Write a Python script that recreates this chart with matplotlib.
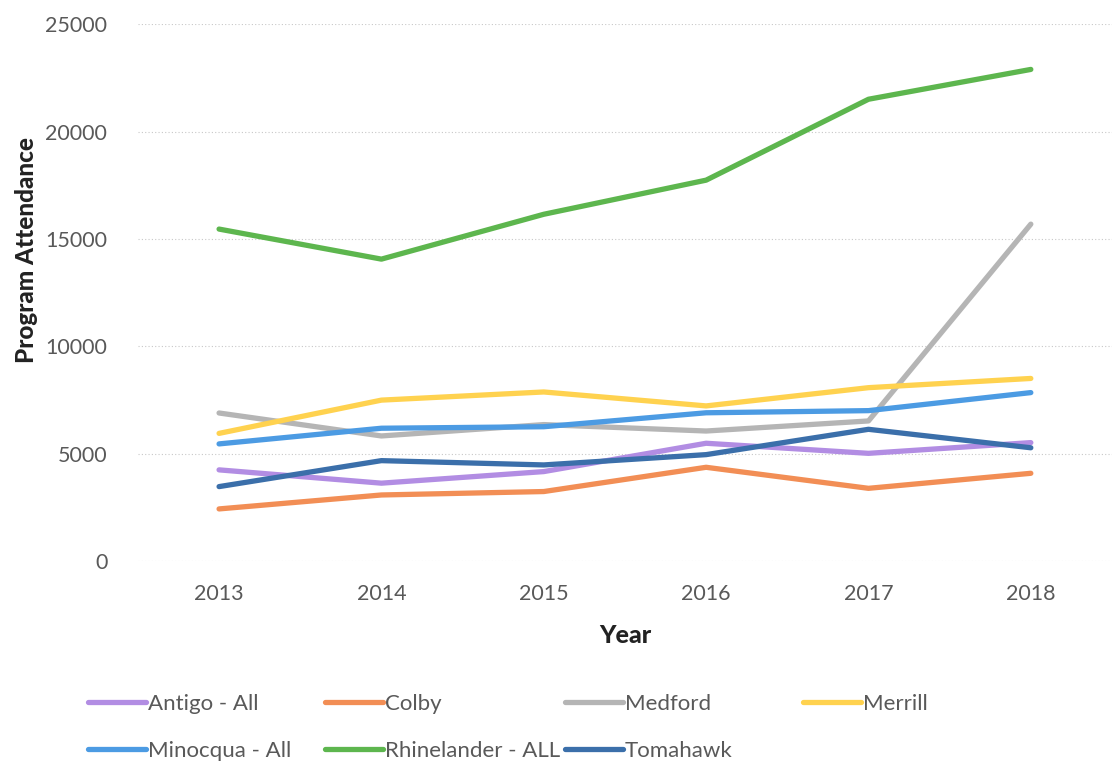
import matplotlib.pyplot as plt
from matplotlib.lines import Line2D

plt.rcParams['font.family'] = ['Lato', 'DejaVu Sans']

years = [2013, 2014, 2015, 2016, 2017, 2018]

antigo = [4240, 3620, 4160, 5480, 5010, 5510]
colby = [2420, 3070, 3230, 4360, 3380, 4080]
medford = [6890, 5820, 6350, 6050, 6520, 15690]
merrill = [5940, 7490, 7870, 7220, 8070, 8500]
minocqua = [5450, 6180, 6250, 6900, 7000, 7840]
rhinelander = [15460, 14060, 16150, 17740, 21510, 22900]
tomahawk = [3460, 4670, 4470, 4950, 6130, 5270]

names = ["Antigo - All", "Colby", "Medford", "Merrill",
         "Minocqua - All", "Rhinelander - ALL", "Tomahawk"]
series = [antigo, colby, medford, merrill, minocqua, rhinelander, tomahawk]
colors = ["#B28DE3", "#F28E55", "#B5B5B5", "#FFD24F",
          "#4C9BE3", "#5DB64E", "#3B6FAA"]

txt = "#595959"

fig = plt.figure(figsize=(11.12, 7.61), dpi=100)
ax = fig.add_axes([0.124, 0.263, 0.876, 0.705])

for vals, c, n in zip(series, colors, names):
    ax.plot(years, vals, color=c, lw=3.8, solid_capstyle="round", label=n)

ax.set_xlim(2012.5, 2018.5)
ax.set_ylim(0, 25000)
ax.set_xticks(years)
ax.set_yticks(range(0, 25001, 5000))
ax.grid(axis="y", color="#c8c8c8", ls=(0, (1, 2)), lw=0.8)
ax.set_axisbelow(True)
for s in ax.spines.values():
    s.set_visible(False)
ax.tick_params(length=0, labelsize=15.5, labelcolor=txt)
ax.tick_params(axis="y", pad=22)
ax.tick_params(axis="x", pad=17)

ax.set_ylabel("Program Attendance", fontsize=17.5, fontweight="black", color="#222222")
ax.yaxis.set_label_coords(-0.1026, 0.58)
ax.set_xlabel("Year", fontsize=18, fontweight="black", color="#222222", labelpad=14)

# legend, laid out in four fixed columns like the original
handles = [Line2D([], [], color=c, lw=3.8, solid_capstyle="round") for c in colors]
cols = [[0, 4], [1, 5], [2, 6], [3]]
xpos = [88, 325, 565, 803]
for idx, x in zip(cols, xpos):
    leg = fig.legend([handles[i] for i in idx], [names[i] for i in idx],
                     loc="upper left", bbox_to_anchor=(x / 1112, 1 - 694 / 761),
                     frameon=False, fontsize=16, handlelength=2.6, handletextpad=0.1,
                     labelspacing=1.22, borderaxespad=0, borderpad=0)
    for t in leg.get_texts():
        t.set_color(txt)

fig.savefig("out.png", dpi=100)
